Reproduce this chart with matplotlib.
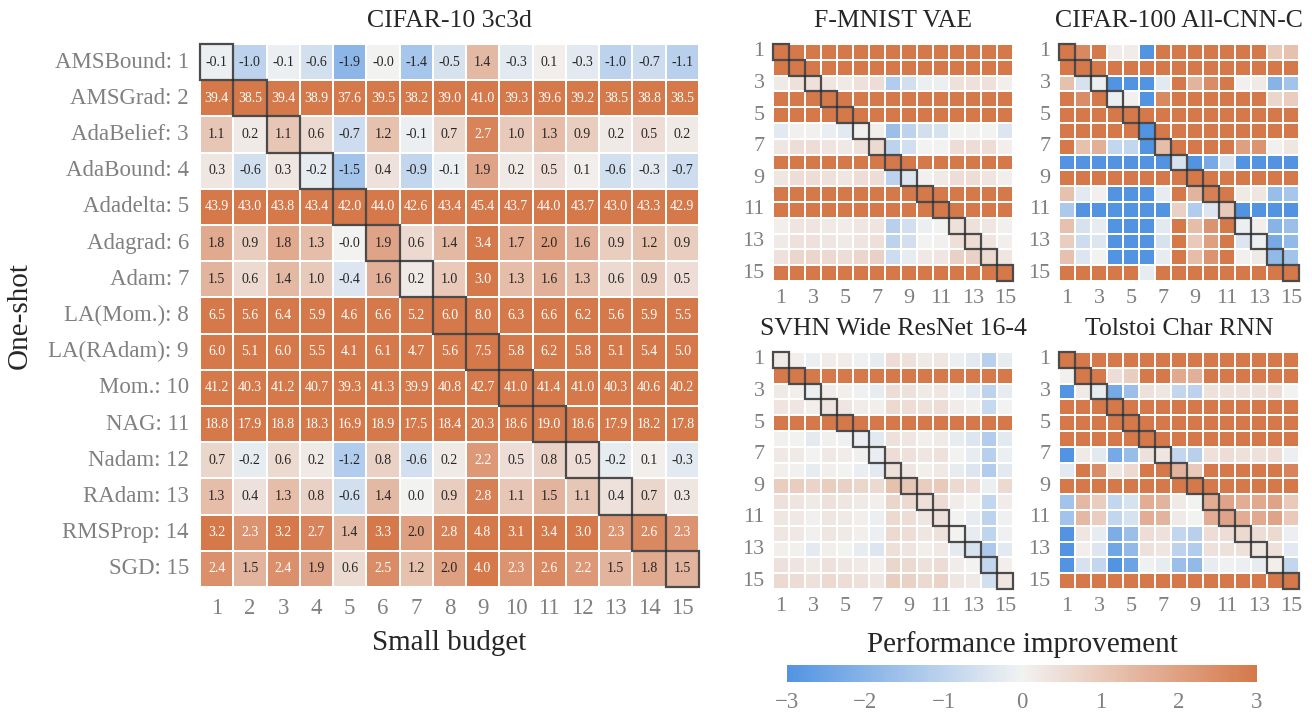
import numpy as np
import matplotlib
matplotlib.use("Agg")
import matplotlib.pyplot as plt
from matplotlib.colors import LinearSegmentedColormap
from matplotlib.patches import Rectangle
import seaborn as sns

plt.rcParams['font.family'] = ['Liberation Serif', 'DejaVu Serif']

optimizers = ["AMSBound", "AMSGrad", "AdaBelief", "AdaBound", "Adadelta", "Adagrad",
              "Adam", "LA(Mom.)", "LA(RAdam)", "Mom.", "NAG", "Nadam", "RAdam",
              "RMSProp", "SGD"]

# CIFAR-10 3c3d: rows = one-shot, cols = small budget
cifar10 = [
    [-0.1, -1.0, -0.1, -0.6, -1.9, -0.0, -1.4, -0.5, 1.4, -0.3, 0.1, -0.3, -1.0, -0.7, -1.1],
    [39.4, 38.5, 39.4, 38.9, 37.6, 39.5, 38.2, 39.0, 41.0, 39.3, 39.6, 39.2, 38.5, 38.8, 38.5],
    [1.1, 0.2, 1.1, 0.6, -0.7, 1.2, -0.1, 0.7, 2.7, 1.0, 1.3, 0.9, 0.2, 0.5, 0.2],
    [0.3, -0.6, 0.3, -0.2, -1.5, 0.4, -0.9, -0.1, 1.9, 0.2, 0.5, 0.1, -0.6, -0.3, -0.7],
    [43.9, 43.0, 43.8, 43.4, 42.0, 44.0, 42.6, 43.4, 45.4, 43.7, 44.0, 43.7, 43.0, 43.3, 42.9],
    [1.8, 0.9, 1.8, 1.3, -0.0, 1.9, 0.6, 1.4, 3.4, 1.7, 2.0, 1.6, 0.9, 1.2, 0.9],
    [1.5, 0.6, 1.4, 1.0, -0.4, 1.6, 0.2, 1.0, 3.0, 1.3, 1.6, 1.3, 0.6, 0.9, 0.5],
    [6.5, 5.6, 6.4, 5.9, 4.6, 6.6, 5.2, 6.0, 8.0, 6.3, 6.6, 6.2, 5.6, 5.9, 5.5],
    [6.0, 5.1, 6.0, 5.5, 4.1, 6.1, 4.7, 5.6, 7.5, 5.8, 6.2, 5.8, 5.1, 5.4, 5.0],
    [41.2, 40.3, 41.2, 40.7, 39.3, 41.3, 39.9, 40.8, 42.7, 41.0, 41.4, 41.0, 40.3, 40.6, 40.2],
    [18.8, 17.9, 18.8, 18.3, 16.9, 18.9, 17.5, 18.4, 20.3, 18.6, 19.0, 18.6, 17.9, 18.2, 17.8],
    [0.7, -0.2, 0.6, 0.2, -1.2, 0.8, -0.6, 0.2, 2.2, 0.5, 0.8, 0.5, -0.2, 0.1, -0.3],
    [1.3, 0.4, 1.3, 0.8, -0.6, 1.4, 0.0, 0.9, 2.8, 1.1, 1.5, 1.1, 0.4, 0.7, 0.3],
    [3.2, 2.3, 3.2, 2.7, 1.4, 3.3, 2.0, 2.8, 4.8, 3.1, 3.4, 3.0, 2.3, 2.6, 2.3],
    [2.4, 1.5, 2.4, 1.9, 0.6, 2.5, 1.2, 2.0, 4.0, 2.3, 2.6, 2.2, 1.5, 1.8, 1.5],
]

# estimated from colours (values beyond +-3 saturate)
fmnist = [
    [4.0] * 15,
    [4.0] * 15,
    [0.2, 0.4, 0.4, 0.3, 0.2, 0.4, 0.5, -1.2, -0.6, -0.1, -0.1, 0.4, 0.4, 0.4, 0.1],
    [4.0] * 15,
    [4.0] * 15,
    [-0.3, 0.05, 0.05, -0.15, -0.3, 0.05, 0.1, -1.6, -1.0, -0.6, -0.5, 0.0, 0.05, 0.0, -0.4],
    [0.3, 0.5, 0.5, 0.35, 0.25, 0.4, 0.6, -1.0, -0.6, 0.0, 0.0, 0.5, 0.5, 0.5, 0.1],
    [4.0] * 15,
    [0.3, 0.5, 0.5, 0.4, 0.3, 0.5, 0.5, -1.0, -0.4, 0.05, 0.2, 0.5, 0.5, 0.35, 0.1],
    [4.0] * 15,
    [4.0] * 15,
    [0.1, 0.35, 0.35, 0.2, 0.15, 0.3, 0.35, -1.1, -0.6, -0.1, 0.0, 0.4, 0.4, 0.3, 0.05],
    [0.2, 0.4, 0.4, 0.3, 0.2, 0.35, 0.45, -1.0, -0.6, 0.0, 0.05, 0.45, 0.5, 0.35, 0.1],
    [0.4, 0.7, 0.7, 0.6, 0.5, 0.7, 0.8, -0.7, -0.2, 0.25, 0.3, 0.8, 0.8, 0.6, 0.3],
    [4.0] * 15,
]

cifar100 = [
    [4.0, 2.6, 4.0, 0.15, 0.15, -4.0, 4.0, 4.0, 4.0, 4.0, 4.0, 4.0, 4.0, 1.0, 1.2],
    [4.0] * 15,
    [1.2, -0.5, -0.1, -4.0, -4.0, -4.0, -0.3, 4.0, 1.5, 2.5, 4.0, 0.05, 0.2, -2.0, -1.5],
    [4.0, 2.5, 4.0, -0.1, 0.05, -4.0, 2.6, 4.0, 4.0, 4.0, 4.0, 4.0, 4.0, 0.7, 0.9],
    [4.0] * 15,
    [4.0, 4.0, 4.0, 4.0, 4.0, -4.0, 4.0, 4.0, 4.0, 4.0, 4.0, 4.0, 4.0, 4.0, 4.0],
    [4.0, 1.2, 1.6, -0.9, -0.9, -4.0, 1.3, 4.0, 4.0, 4.0, 4.0, 2.0, 2.3, 0.05, 0.3],
    [-4.0, -4.0, -4.0, -4.0, -4.0, -4.0, -4.0, -0.5, -4.0, -2.3, -0.5, -4.0, -4.0, -4.0, -4.0],
    [4.0] * 15,
    [1.2, -0.3, 0.05, -4.0, -4.0, -4.0, -0.2, 4.0, 1.5, 2.8, 4.0, 0.2, 0.3, -1.7, -1.4],
    [-1.3, -4.0, -4.0, -4.0, -4.0, -4.0, -4.0, 0.8, -1.2, -0.4, 1.0, -4.0, -4.0, -4.0, -4.0],
    [1.2, -0.5, -0.2, -4.0, -4.0, -4.0, -0.3, 4.0, 1.3, 2.3, 4.0, -0.1, 0.1, -2.0, -1.6],
    [0.9, -0.7, -0.4, -4.0, -4.0, -4.0, -0.5, 4.0, 1.0, 2.0, 4.0, -0.4, -0.1, -2.3, -1.8],
    [1.2, -0.4, 0.0, -4.0, -4.0, -4.0, -0.2, 4.0, 1.3, 2.3, 4.0, 0.05, 0.2, -1.8, -1.5],
    [4.0, 4.0, 4.0, 4.0, 4.0, -0.2, 4.0, 4.0, 4.0, 4.0, 4.0, 4.0, 4.0, 4.0, 4.0],
]

svhn = [
    [0.2, 0.1, -0.1, 0.15, 0.15, -0.05, -0.2, 0.5, 0.4, 0.2, 0.3, -0.1, -0.3, -1.1, -0.2],
    [4.0] * 15,
    [0.2, 0.1, -0.1, 0.15, 0.1, -0.05, -0.2, 0.5, 0.4, 0.2, 0.3, -0.05, -0.3, -1.0, -0.2],
    [0.35, 0.3, 0.1, 0.35, 0.3, 0.15, 0.1, 0.6, 0.5, 0.4, 0.5, 0.15, 0.05, -0.8, 0.0],
    [4.0] * 15,
    [0.05, 0.0, -0.25, 0.05, -0.05, -0.15, -0.3, 0.4, 0.3, 0.1, 0.2, -0.2, -0.4, -1.2, -0.3],
    [0.25, 0.2, 0.0, 0.25, 0.15, 0.05, -0.15, 0.5, 0.4, 0.3, 0.4, 0.0, -0.2, -1.1, -0.1],
    [0.1, 0.05, -0.2, 0.1, 0.0, -0.15, -0.3, 0.4, 0.3, 0.1, 0.25, -0.2, -0.4, -1.2, -0.3],
    [0.9, 0.9, 0.75, 0.9, 0.8, 0.7, 0.6, 1.2, 1.1, 0.9, 1.0, 0.6, 0.5, -0.1, 0.6],
    [0.4, 0.35, 0.2, 0.4, 0.3, 0.2, 0.1, 0.7, 0.6, 0.4, 0.55, 0.15, 0.0, -0.9, 0.15],
    [0.3, 0.25, 0.05, 0.3, 0.2, 0.1, -0.1, 0.6, 0.5, 0.3, 0.4, 0.0, -0.2, -1.0, -0.05],
    [0.3, 0.25, 0.05, 0.3, 0.2, 0.1, -0.1, 0.6, 0.5, 0.3, 0.4, 0.0, -0.2, -0.95, -0.05],
    [0.1, 0.05, -0.25, 0.1, 0.0, -0.2, -0.4, 0.45, 0.35, 0.1, 0.25, -0.25, -0.5, -1.3, -0.3],
    [0.4, 0.35, 0.2, 0.4, 0.3, 0.2, 0.1, 0.7, 0.6, 0.4, 0.55, 0.15, 0.0, -0.9, 0.1],
    [0.6, 0.55, 0.4, 0.6, 0.5, 0.4, 0.3, 0.9, 0.8, 0.6, 0.75, 0.3, 0.2, -0.6, 0.3],
]

tolstoi = [
    [4.0] * 15,
    [0.05, 4.0, 4.0, 0.5, 0.9, 4.0, 4.0, 1.8, 1.6, 4.0, 4.0, 4.0, 4.0, 4.0, 4.0],
    [-4.0, 0.2, -0.2, -2.3, -1.6, 0.4, 0.3, -0.9, -1.0, 0.4, 0.4, 0.4, 0.4, 0.5, 0.0],
    [4.0] * 15,
    [4.0] * 15,
    [4.0] * 15,
    [-4.0, 0.2, -0.3, -2.3, -1.7, 0.4, 0.3, -0.9, -1.1, 0.4, 0.5, 0.4, 0.4, 0.5, -0.1],
    [-0.3, 4.0, 2.5, 0.3, 0.6, 4.0, 4.0, 1.5, 1.0, 4.0, 4.0, 4.0, 4.0, 4.0, 2.7],
    [4.0] * 15,
    [-1.5, 1.4, 0.9, -0.9, -0.5, 1.7, 1.5, 0.2, 0.0, 1.7, 1.9, 1.7, 1.8, 1.9, 1.0],
    [-1.5, 1.4, 0.9, -0.9, -0.5, 1.7, 1.5, 0.2, 0.0, 1.7, 1.9, 1.7, 1.8, 1.9, 1.0],
    [-4.0, 0.3, -0.2, -2.2, -1.6, 0.5, 0.4, -0.9, -1.1, 0.5, 0.5, 0.6, 0.5, 0.6, -0.1],
    [-4.0, 0.1, -0.4, -2.4, -1.8, 0.4, 0.3, -1.0, -1.2, 0.4, 0.4, 0.4, 0.3, 0.4, -0.3],
    [-4.0, -0.5, -0.9, -4.0, -2.5, -0.05, -0.2, -1.6, -1.8, -0.2, -0.05, -0.1, -0.2, 0.1, -0.9],
    [4.0] * 15,
]

small_titles = ["F-MNIST VAE", "CIFAR-100 All-CNN-C", "SVHN Wide ResNet 16-4", "Tolstoi Char RNN"]
small_data = [fmnist, cifar100, svhn, tolstoi]

cmap = LinearSegmentedColormap.from_list(
    "perf", ["#5294e2", "#f2f2f2", "#d5784a"])

W, H = 1312, 715
fig = plt.figure(figsize=(W / 100, H / 100), dpi=100)

TICK_COLOR = "#808080"
TEXT_COLOR = "#262626"


def px_axes(x0, y0, w, h):
    return fig.add_axes([x0 / W, 1 - (y0 + h) / H, w / W, h / H])


def outline_diag(ax, n):
    for i in range(n):
        ax.add_patch(Rectangle((i, i), 1, 1, fill=False, edgecolor="#2b2b2b",
                               lw=1.6, alpha=0.85, clip_on=False, zorder=5))


# main heatmap
ax_main = px_axes(200, 44, 499, 543)
sns.heatmap(np.array(cifar10), ax=ax_main, cmap=cmap, vmin=-3, vmax=3, center=0,
            annot=True, fmt=".1f", annot_kws={"fontsize": 10}, cbar=False,
            linewidths=1.2, linecolor="white")
outline_diag(ax_main, 15)
ax_main.set_xticks(np.arange(15) + 0.5)
ax_main.set_xticklabels([str(i + 1) for i in range(15)], rotation=0)
ax_main.set_yticks(np.arange(15) + 0.5)
ax_main.set_yticklabels([f"{name}: {i + 1}" for i, name in enumerate(optimizers)], rotation=0)
ax_main.tick_params(length=0, labelsize=16.5, labelcolor=TICK_COLOR, pad=8)
ax_main.set_title("CIFAR-10 3c3d", fontsize=18.5, color=TEXT_COLOR, pad=12)
ax_main.set_xlabel("Small budget", fontsize=21, color=TEXT_COLOR, labelpad=8)
ax_main.set_ylabel("One-shot", fontsize=21, color=TEXT_COLOR, labelpad=11)

# small heatmaps
positions = [(773, 44), (1059, 44), (773, 352), (1059, 352)]
for (x0, y0), title, data in zip(positions, small_titles, small_data):
    ax = px_axes(x0, y0, 240, 237)
    sns.heatmap(np.array(data), ax=ax, cmap=cmap, vmin=-3, vmax=3, center=0,
                cbar=False, linewidths=1.2, linecolor="white")
    outline_diag(ax, 15)
    ticks = np.arange(0, 15, 2) + 0.5
    labels = [str(i + 1) for i in range(0, 15, 2)]
    ax.set_xticks(ticks)
    ax.set_xticklabels(labels, rotation=0)
    ax.set_yticks(ticks)
    ax.set_yticklabels(labels, rotation=0)
    ax.tick_params(length=0, labelsize=16, labelcolor=TICK_COLOR, pad=6)
    ax.set_title(title, fontsize=18.5, color=TEXT_COLOR, pad=12)

# colorbar
cax = px_axes(787, 665, 470, 17)
sm = plt.cm.ScalarMappable(cmap=cmap, norm=plt.Normalize(-3, 3))
cb = fig.colorbar(sm, cax=cax, orientation="horizontal")
cb.outline.set_visible(False)
cb.set_ticks([-3, -2, -1, 0, 1, 2, 3])
cax.tick_params(length=0, labelsize=16.5, labelcolor=TICK_COLOR, pad=7)
cax.xaxis.set_label_position("top")
cax.set_xlabel("Performance improvement", fontsize=21, color=TEXT_COLOR, labelpad=9)

fig.savefig("out.png", dpi=100)
